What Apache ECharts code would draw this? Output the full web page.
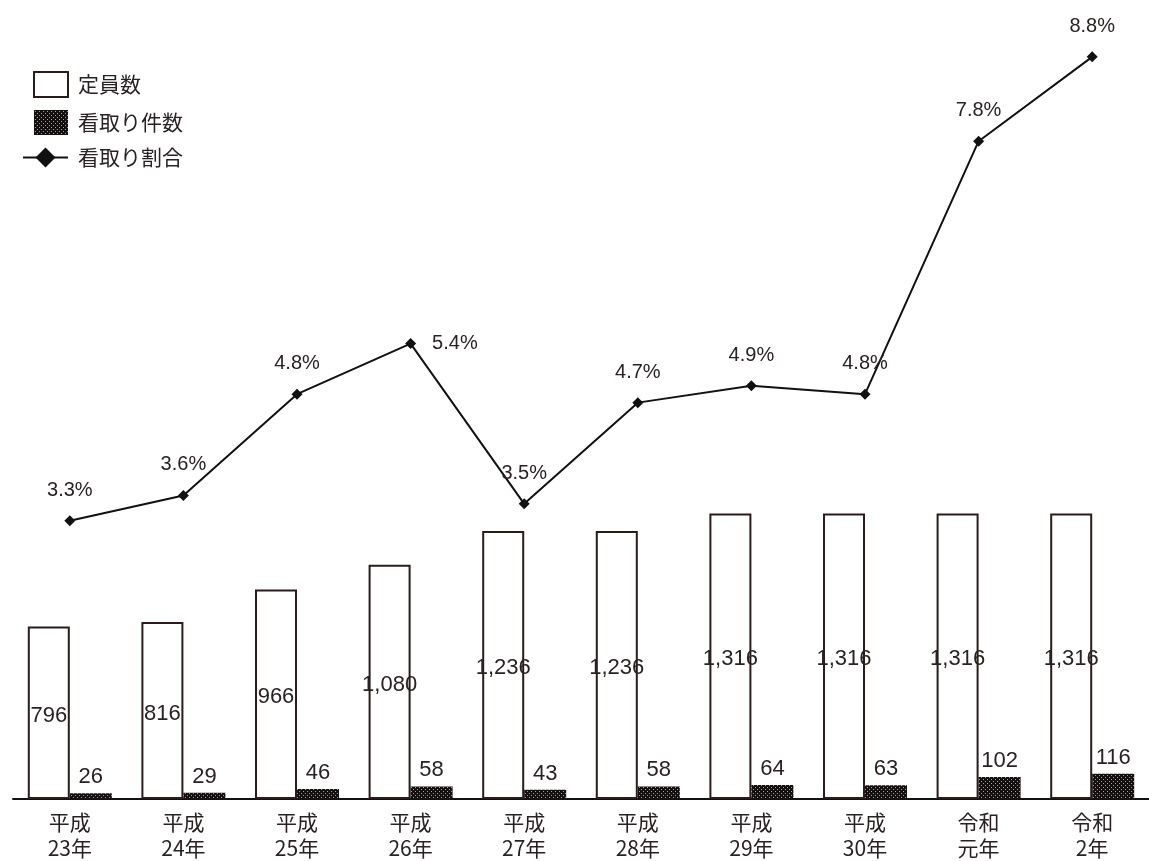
<!DOCTYPE html>
<html><head><meta charset="utf-8">
<script src="https://cdn.jsdelivr.net/npm/echarts@6/dist/echarts.min.js"></script>
<style>html,body{margin:0;padding:0;background:#fff}#c{width:1149px;height:861px}</style>
</head><body><div id="c"></div>
<script>
const categories = ['平成\n23年','平成\n24年','平成\n25年','平成\n26年','平成\n27年','平成\n28年','平成\n29年','平成\n30年','令和\n元年','令和\n2年'];
const capacity = [796, 816, 966, 1080, 1236, 1236, 1316, 1316, 1316, 1316];
const endOfLife = [26, 29, 46, 58, 43, 58, 64, 63, 102, 116];
const ratio = [3.3, 3.6, 4.8, 5.4, 3.5, 4.7, 4.9, 4.8, 7.8, 8.8];

const labelTweaks = {3: {position: 'right', distance: 16}};

const tile = document.createElement('canvas');
tile.width = 4; tile.height = 4;
const tctx = tile.getContext('2d');
tctx.fillStyle = '#141010'; tctx.fillRect(0,0,4,4);
tctx.fillStyle = '#a0a0a0'; tctx.fillRect(1,1,1,1); tctx.fillRect(3,3,1,1);
const pattern = {image: tile, repeat: 'repeat'};

const FONT = '"Liberation Sans", Arial, "Noto Sans CJK JP", sans-serif';
const CJK = '"Noto Sans CJK JP", sans-serif';
const TXT = '#2a2222';
const EDGE = '#2b1b1b';

const chart = echarts.init(document.getElementById('c'));
chart.setOption({
  animation: false,
  textStyle: {fontFamily: FONT},
  legend: [
    {orient: 'vertical', left: 33, top: 71, padding: 0, itemWidth: 34, itemHeight: 25, itemGap: 12, icon: 'rect',
     data: ['定員数', '看取り件数'],
     textStyle: {fontSize: 21, color: TXT, fontFamily: CJK, padding: [0, 0, 0, 5]}},
    {orient: 'vertical', left: 22, top: 147, padding: 0, itemWidth: 45, itemHeight: 25,
     data: ['看取り割合'],
     textStyle: {fontSize: 21, color: TXT, fontFamily: CJK, padding: [0, 0, 0, 5]}}
  ],
  grid: {left: 13, top: 40, width: 1141, bottom: 58, containLabel: false},
  xAxis: {
    type: 'category', data: categories, boundaryGap: true,
    axisLine: {lineStyle: {color: '#111', width: 2}},
    axisTick: {show: false},
    axisLabel: {fontSize: 21, lineHeight: 26, margin: 10, color: TXT, fontFamily: CJK}
  },
  yAxis: [
    {type: 'value', min: 0, max: 3500, show: false},
    {type: 'value', min: 0, max: 9, show: false}
  ],
  series: [
    {name: '定員数', type: 'bar', data: capacity, barWidth: 42, barGap: '0%',
     itemStyle: {color: '#fff', borderColor: EDGE, borderWidth: 2},
     label: {show: true, position: 'inside', offset: [0, 3], fontSize: 22, color: TXT,
       formatter: p => p.value.toLocaleString('en-US')}},
    {name: '看取り件数', type: 'bar', data: endOfLife, barWidth: 42, barGap: '0%',
     itemStyle: {color: pattern},
     label: {show: true, position: 'top', distance: 5, fontSize: 22, color: TXT}},
    {name: '看取り割合', type: 'line', yAxisIndex: 1,
     data: ratio.map((v, i) => labelTweaks[i] ? {value: v, label: labelTweaks[i]} : v),
     symbol: 'diamond', symbolSize: 11,
     lineStyle: {color: '#111', width: 2}, itemStyle: {color: '#111'},
     label: {show: true, position: 'top', distance: 15, fontSize: 20, color: TXT,
       formatter: p => p.value.toFixed(1) + '%'}}
  ]
});
</script></body></html>
